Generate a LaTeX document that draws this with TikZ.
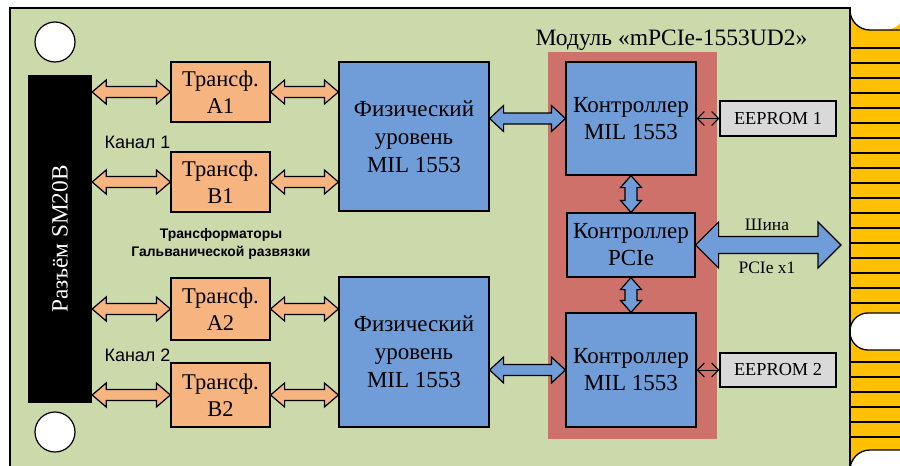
\documentclass[tikz,border=0pt]{standalone}
\usepackage{fontspec}
\setmainfont{Liberation Serif}
\newfontfamily\arialf{Liberation Sans}
\usetikzlibrary{arrows.meta,calc}
\definecolor{board}{RGB}{204,218,171}
\definecolor{trf}{RGB}{246,180,128}
\definecolor{blu}{RGB}{112,157,216}
\definecolor{modred}{RGB}{205,113,106}
\definecolor{gold}{RGB}{255,192,0}
\definecolor{eegray}{RGB}{217,217,217}
% horizontal double block arrow: start, end, shaft half, head half, head length, style
\newcommand\hdarrow[6]{\draw[#6] let \p1=(#1), \p2=(#2) in
 (\x1,\y1) -- (\x1+#5pt,\y1+#4pt) -- (\x1+#5pt,\y1+#3pt) -- (\x2-#5pt,\y1+#3pt) -- (\x2-#5pt,\y1+#4pt) -- (\x2,\y1)
 -- (\x2-#5pt,\y1-#4pt) -- (\x2-#5pt,\y1-#3pt) -- (\x1+#5pt,\y1-#3pt) -- (\x1+#5pt,\y1-#4pt) -- cycle;}
% vertical double block arrow (start above end)
\newcommand\vdarrow[6]{\draw[#6] let \p1=(#1), \p2=(#2) in
 (\x1,\y1) -- (\x1+#4pt,\y1-#5pt) -- (\x1+#3pt,\y1-#5pt) -- (\x1+#3pt,\y2+#5pt) -- (\x1+#4pt,\y2+#5pt) -- (\x1,\y2)
 -- (\x1-#4pt,\y2+#5pt) -- (\x1-#3pt,\y2+#5pt) -- (\x1-#3pt,\y1-#5pt) -- (\x1-#4pt,\y1-#5pt) -- cycle;}
\begin{document}
\begin{tikzpicture}[x=1pt,y=-1pt,
  boxbase/.style={draw, line width=1.2pt, inner sep=0pt, align=center},
  trbox/.style={boxbase, fill=trf, minimum width=99pt, font=\fontsize{22.5}{27}\selectfont},
  physbox/.style={boxbase, fill=blu, minimum width=150pt, font=\fontsize{23}{28}\selectfont},
  ctrlbox/.style={boxbase, fill=blu, minimum width=130pt, font=\fontsize{23}{27}\selectfont},
  eebox/.style={boxbase, fill=eegray, minimum width=116pt, font=\fontsize{18.3}{20}\selectfont},
  oarrow/.style={draw, line width=1.2pt, fill=trf, line join=miter},
  barrow/.style={draw, line width=1.2pt, fill=blu, line join=miter},
  thinarrow/.style={line width=1pt, {Straight Barb[length=7pt,width=14pt]}-{Straight Barb[length=7pt,width=14pt]}},
  hole/.style={draw, line width=1.2pt, fill=white, circle, minimum size=40pt, inner sep=0pt},
  chlabel/.style={font=\arialf\fontsize{18}{20}\selectfont, anchor=west}
]
\useasboundingbox (0,0) rectangle (900,466);
\clip (0,0) rectangle (900,466);
\fill[white] (0,0) rectangle (900,466);
% board
\fill[board] (10,8) rectangle (850,480);
% gold edge connector
\fill[gold] (850,8) rectangle (905,480);
\foreach \yy in {48,63,...,303} {\draw[line width=1.3pt] (850,\yy) -- (905,\yy);}
\foreach \yy in {362,377,...,437} {\draw[line width=1.3pt] (850,\yy) -- (905,\yy);}
\fill[white] (905,-2) -- (850,-2) [rounded corners=20pt] -- (850,30) -- (905,30) [sharp corners] -- cycle;
\draw[line width=1.3pt] (850,8) [rounded corners=20pt] -- (850,30) -- (905,30);
\filldraw[fill=white, line width=1.3pt] (905,313) [rounded corners=18pt] -- (850,313) -- (850,350) -- (905,350);
\filldraw[fill=white, line width=1.3pt] (905,450) [rounded corners=20pt] -- (850,450) -- (850,485) [sharp corners] -- (905,485);
% board outline
\draw[line width=1.3pt] (10,480) -- (10,8) -- (850,8) -- (850,480);

% mounting holes
\node[hole] (h1) at (55,42) {};
\node[hole] (h2) at (55,432) {};

% connector
\node[fill=black, minimum width=64pt, minimum height=328pt, inner sep=0pt] (conn) at (60,239) {};
\node[rotate=90, text=white, font=\fontsize{23.3}{26}\selectfont] (connlbl) at (conn.center) {Разъём SM20B};

% transformers
\node[trbox, minimum height=60pt] (a1) at (220.5,92) {Трансф.\\A1};
\node[trbox, minimum height=60pt] (b1) at (220.5,182) {Трансф.\\B1};
\node[trbox, minimum height=62pt] (a2) at (220.5,309) {Трансф.\\A2};
\node[trbox, minimum height=64pt] (b2) at (220.5,395) {Трансф.\\B2};

% physical layer
\node[physbox, minimum height=149pt] (p1) at (414,136.5) {Физический\\уровень\\MIL 1553};
\node[physbox, minimum height=150pt] (p2) at (414,352) {Физический\\уровень\\MIL 1553};

% module
\fill[modred] (548,52) rectangle (717,439);
\node[font=\fontsize{23.5}{26}\selectfont] (modtitle) at (671.5,40) {Модуль «mPCIe-1553UD2»};
\node[ctrlbox, minimum height=113pt] (c1) at (631,118.5) {Контроллер\\MIL 1553};
\node[ctrlbox, minimum width=128pt, minimum height=64pt] (pc) at (631,245) {Контроллер\\PCIe};
\node[ctrlbox, minimum height=114pt] (c2) at (631,370) {Контроллер\\MIL 1553};

% EEPROM
\node[eebox, minimum height=35pt] (e1) at (778,118.5) {EEPROM 1};
\node[eebox, minimum height=34pt] (e2) at (778,370) {EEPROM 2};

% labels
\node[chlabel] (k1) at (101,142) {Канал 1};
\node[chlabel] (k2) at (101,355) {Канал 2};
\node[font=\arialf\bfseries\fontsize{13.9}{18}\selectfont, align=center] (trl) at (221,244) {Трансформаторы\\Гальванической развязки};

% arrows: connector - transformers
\hdarrow{conn.east |- a1.west}{a1.west}{5.5}{12}{14}{oarrow}
\hdarrow{conn.east |- b1.west}{b1.west}{5.5}{12}{14}{oarrow}
\hdarrow{conn.east |- a2.west}{a2.west}{5.5}{12}{14}{oarrow}
\hdarrow{conn.east |- b2.west}{b2.west}{5.5}{12}{14}{oarrow}
% transformers - physical
\hdarrow{a1.east}{p1.west |- a1.east}{5.5}{12}{14}{oarrow}
\hdarrow{b1.east}{p1.west |- b1.east}{5.5}{12}{14}{oarrow}
\hdarrow{a2.east}{p2.west |- a2.east}{5.5}{12}{14}{oarrow}
\hdarrow{b2.east}{p2.west |- b2.east}{5.5}{12}{14}{oarrow}
% physical - controllers
\hdarrow{p1.east |- c1.west}{c1.west}{5.5}{13}{14}{barrow}
\hdarrow{p2.east |- c2.west}{c2.west}{5.5}{13}{14}{barrow}
% controllers vertical
\vdarrow{c1.south}{pc.north}{6}{10.5}{12}{barrow}
\vdarrow{pc.south}{c2.north}{6}{10.5}{12}{barrow}
% PCIe bus
\coordinate (busend) at (841,245);
\hdarrow{pc.east}{busend}{8.5}{23}{23}{barrow}
\node[font=\fontsize{17.5}{20}\selectfont] (bus1) at (767,225) {Шина};
\node[font=\fontsize{17.5}{20}\selectfont] (bus2) at (767,268) {PCIe x1};
% EEPROM links
\draw[thinarrow] (c1.east) -- (e1.west);
\draw[thinarrow] (c2.east) -- (e2.west);
\end{tikzpicture}
\end{document}
